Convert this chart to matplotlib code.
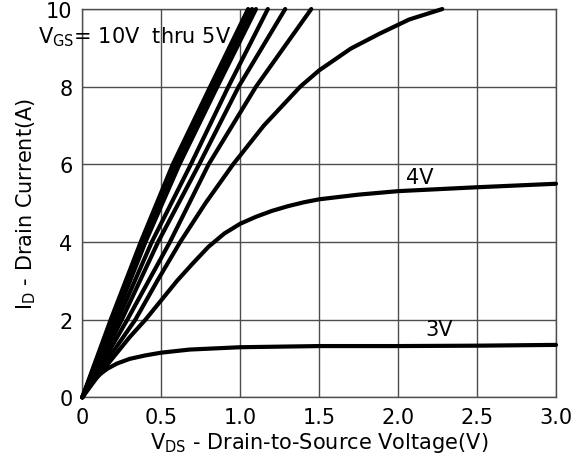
import matplotlib
matplotlib.use("Agg")
import matplotlib.pyplot as plt

plt.rcParams['font.family'] = ['DejaVu Sans']
plt.rcParams['mathtext.fontset'] = 'custom'
plt.rcParams['mathtext.rm'] = 'DejaVu Sans'

# VGS = 10V thru 5V group, drain current steps 0..10 A
grp_i = [0, 2, 4, 6, 8, 10]
grp_v1 = [0, 0.18, 0.37, 0.573, 0.81, 1.05]
grp_v2 = [0, 0.19, 0.385, 0.594, 0.834, 1.075]
grp_v3 = [0, 0.205, 0.40, 0.615, 0.855, 1.10]
grp_v4 = [0, 0.225, 0.44, 0.6875, 0.925, 1.175]
grp_v5 = [0, 0.25, 0.48, 0.74, 0.99, 1.285]
grp_v6 = [0, 0.285, 0.555, 0.80, 1.10, 1.45]

# lowest curve of the group
c7_v = [0, 0.165, 0.336, 0.475, 0.62, 0.78, 0.955, 1.15, 1.38, 1.5, 1.7, 1.88, 2.07, 2.28]
c7_i = [0, 1, 2, 3, 4, 5, 6, 7, 8, 8.42, 8.98, 9.36, 9.73, 10]

# VGS = 4V
v4_v = [0, 0.1, 0.2, 0.3, 0.4, 0.5, 0.6, 0.7, 0.8, 0.9, 1.0, 1.1, 1.2, 1.3, 1.4,
        1.5, 1.75, 2.0, 2.5, 3.0]
v4_i = [0, 0.55, 1.05, 1.55, 2.0, 2.5, 3.0, 3.45, 3.88, 4.22, 4.47, 4.65, 4.8, 4.92, 5.02,
        5.1, 5.22, 5.31, 5.41, 5.5]

# VGS = 3V
v3_v = [0, 0.04, 0.08, 0.12, 0.16, 0.22, 0.3, 0.4, 0.5, 0.68, 1.0, 1.5, 2.0, 2.5, 3.0]
v3_i = [0, 0.26, 0.47, 0.62, 0.74, 0.87, 0.99, 1.08, 1.15, 1.23, 1.29, 1.32, 1.32, 1.33, 1.35]

xticks = [0, 0.5, 1.0, 1.5, 2.0, 2.5, 3.0]
xlabels = ['0', '0.5', '1.0', '1.5', '2.0', '2.5', '3.0']
yticks = [0, 2, 4, 6, 8, 10]

fig = plt.figure(figsize=(5.74, 4.56), dpi=100)
ax = fig.add_axes([0.1434, 0.1265, 0.8252, 0.8515])

kw = dict(color='black', lw=3, solid_capstyle='round', solid_joinstyle='round',
          clip_on=False, zorder=3)
for vv in [grp_v1, grp_v2, grp_v3, grp_v4, grp_v5, grp_v6]:
    ax.plot(vv, grp_i, **kw)
ax.plot(c7_v, c7_i, **kw)
ax.plot(v4_v, v4_i, **kw)
ax.plot(v3_v, v3_i, **kw)

ax.set_xlim(0, 3)
ax.set_ylim(0, 10)
ax.set_xticks(xticks)
ax.set_xticklabels(xlabels)
ax.set_yticks(yticks)
ax.tick_params(length=0, labelsize=15, pad=7)
ax.grid(True, color='#4d4d4d', lw=1)
for s in ax.spines.values():
    s.set_color('#4d4d4d')
    s.set_linewidth(1)

ax.text(2.14, 5.68, '4V', fontsize=15, ha='center', va='center')
ax.text(2.26, 1.75, '3V', fontsize=15, ha='center', va='center')
fig.text(0.066, 0.918, r'$\mathregular{V_{GS}}$= 10V  thru 5V', fontsize=15,
         ha='left', va='center')

ax.set_xlabel(r'$\mathregular{V_{DS}}$ - Drain-to-Source Voltage(V)', fontsize=15, labelpad=2)
ax.set_ylabel(r'$\mathregular{I_D}$ - Drain Current(A)', fontsize=15, labelpad=6)

fig.savefig('out.png', dpi=100)
